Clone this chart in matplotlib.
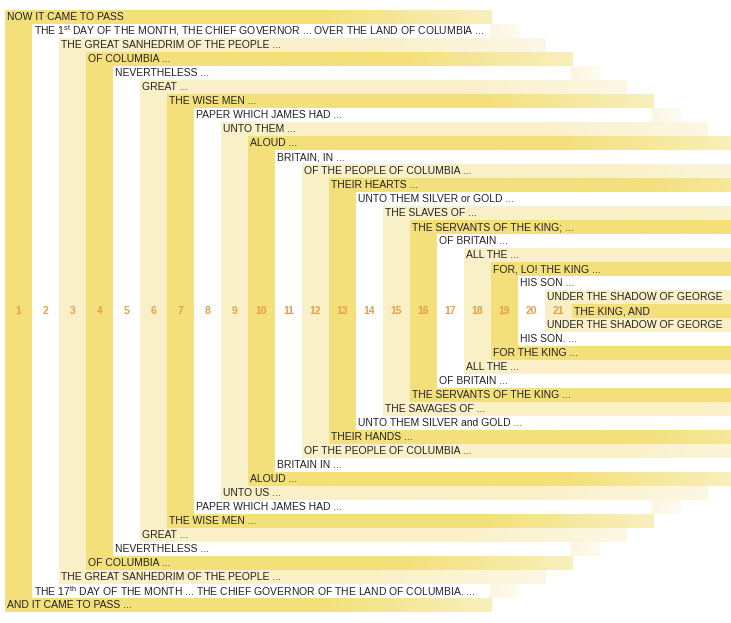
import numpy as np
import matplotlib
matplotlib.use("Agg")
import matplotlib.pyplot as plt
from matplotlib.colors import to_rgb

plt.rcParams['font.family'] = ['Liberation Sans', 'DejaVu Sans']
plt.rcParams['mathtext.fontset'] = 'custom'
plt.rcParams['mathtext.rm'] = 'Liberation Sans'

# --- chiasm text, outer level first ---
top_lines = [
    "NOW IT CAME TO PASS",
    r"THE 1$^{\rm st}$ DAY OF THE MONTH, THE CHIEF GOVERNOR ... OVER THE LAND OF COLUMBIA ...",
    "THE GREAT SANHEDRIM OF THE PEOPLE ...",
    "OF COLUMBIA ...",
    "NEVERTHELESS ...",
    "GREAT ...",
    "THE WISE MEN ...",
    "PAPER WHICH JAMES HAD ...",
    "UNTO THEM ...",
    "ALOUD ...",
    "BRITAIN, IN ...",
    "OF THE PEOPLE OF COLUMBIA ...",
    "THEIR HEARTS ...",
    "UNTO THEM SILVER or GOLD ...",
    "THE SLAVES OF ...",
    "THE SERVANTS OF THE KING; ...",
    "OF BRITAIN ...",
    "ALL THE ...",
    "FOR, LO! THE KING ...",
    "HIS SON ...",
    "UNDER THE SHADOW OF GEORGE",
]
bottom_lines = [
    "AND IT CAME TO PASS ...",
    r"THE 17$^{\rm th}$ DAY OF THE MONTH ... THE CHIEF GOVERNOR OF THE LAND OF COLUMBIA. ...",
    "THE GREAT SANHEDRIM OF THE PEOPLE ...",
    "OF COLUMBIA ...",
    "NEVERTHELESS ...",
    "GREAT ...",
    "THE WISE MEN ...",
    "PAPER WHICH JAMES HAD ...",
    "UNTO US ...",
    "ALOUD ...",
    "BRITAIN IN ...",
    "OF THE PEOPLE OF COLUMBIA ...",
    "THEIR HANDS ...",
    "UNTO THEM SILVER and GOLD ...",
    "THE SAVAGES OF ...",
    "THE SERVANTS OF THE KING ...",
    "OF BRITAIN ...",
    "ALL THE ...",
    "FOR THE KING ...",
    "HIS SON. ...",
    "UNDER THE SHADOW OF GEORGE",
]
center_line = "THE KING, AND"
level_numbers = list(range(1, len(top_lines) + 1))

# --- layout (pixels) ---
W, H = 731, 623
x0, y0 = 5, 10
col_w, row_h = 27, 14
bar_len = 487
n = len(top_lines)
n_rows = 2 * n + 1

DARK = '#F3E07A'
LIGHT = '#FAF0C8'
WHITE = '#FFFFFF'
palette = [DARK, WHITE, LIGHT]
TEXT = '#222222'
NUM = '#E3A045'
FS = 7.5


def bar_gradient(color, length):
    t = np.linspace(0, 1, 200)
    base = np.array(to_rgb(color))
    if color == WHITE:
        faint = 0.55 * np.array(to_rgb(LIGHT)) + 0.45
        start = 1 - col_w / length
        mix = np.where(t < start, 0.0, 1.0 - 0.5 * (t - start) / (1 - start))
        rgb = (1 - mix[:, None]) * 1.0 + mix[:, None] * faint
    else:
        fade = np.clip((t - 0.65) / 0.35, 0, 1) * 0.5
        rgb = (1 - fade[:, None]) * base + fade[:, None] * 1.0
    return rgb[None, :, :]


def draw_bar(ax, level, row, color):
    left = x0 + col_w * level
    top = y0 + row_h * row
    ax.imshow(bar_gradient(color, bar_len), extent=[left, left + bar_len, top + row_h, top],
              aspect='auto', interpolation='bilinear', zorder=1)


fig = plt.figure(figsize=(W / 100, H / 100), dpi=100)
ax = fig.add_axes([0, 0, 1, 1])

for i in range(n):
    color = palette[i % 3]
    top_row, bot_row = i, n_rows - 1 - i
    # vertical column joining the pair
    ax.add_patch(plt.Rectangle((x0 + col_w * i, y0 + row_h * top_row), col_w,
                               row_h * (bot_row - top_row + 1), facecolor=color,
                               edgecolor='none', zorder=1))
    draw_bar(ax, i, top_row, color)
    draw_bar(ax, i, bot_row, color)
    tx = x0 + col_w * i + 2
    ax.text(tx, y0 + row_h * (top_row + 0.5), top_lines[i], fontsize=FS, color=TEXT,
            va='center', ha='left', zorder=3)
    ax.text(tx, y0 + row_h * (bot_row + 0.5), bottom_lines[i], fontsize=FS, color=TEXT,
            va='center', ha='left', zorder=3)
    ax.text(x0 + col_w * (i + 0.5), y0 + row_h * (n + 0.5), str(level_numbers[i]),
            fontsize=7.5, fontweight='bold', color=NUM, ha='center', va='center', zorder=3)

# centre line
draw_bar(ax, n, n, palette[n % 3])
ax.text(x0 + col_w * n + 2, y0 + row_h * (n + 0.5), center_line, fontsize=FS,
        color=TEXT, va='center', ha='left', zorder=3)

ax.set_xlim(0, W)
ax.set_ylim(H, 0)
ax.axis('off')
fig.savefig('out.png', dpi=100, facecolor='white')
